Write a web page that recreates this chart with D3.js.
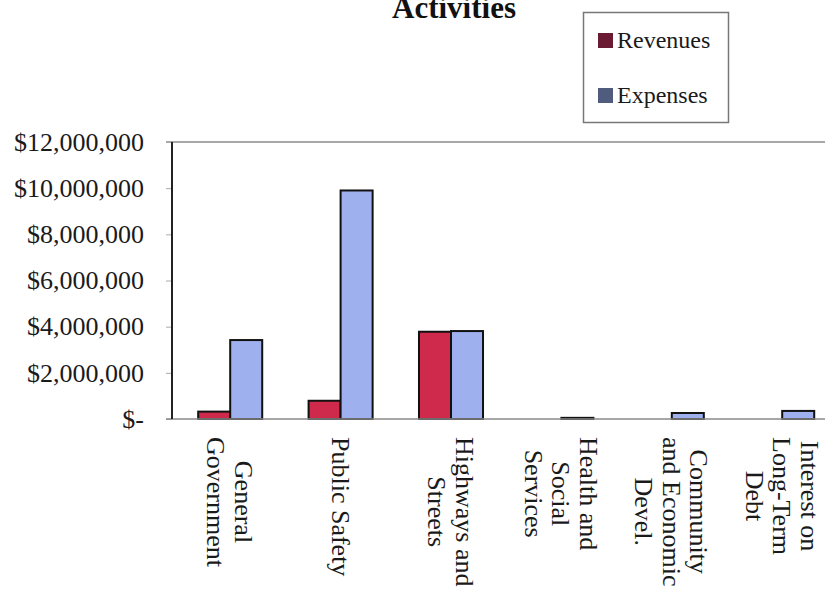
<!DOCTYPE html>
<html><head><meta charset="utf-8">
<script src="https://cdn.jsdelivr.net/npm/d3@7"></script>
<style>
html,body{margin:0;padding:0;background:#fff;}
svg{display:block;font-family:"Liberation Serif","Times New Roman",serif;}
</style></head>
<body>
<svg id="chart" width="825" height="589"></svg>
<script>
const categories = [
  ["General", "Government"],
  ["Public Safety"],
  ["Highways and", "Streets"],
  ["Health and", "Social", "Services"],
  ["Community", "and Economic", "Devel."],
  ["Interest on", "Long-Term", "Debt"]
];
const seriesNames = ["Revenues", "Expenses"];
const revenues = [320000, 790000, 3780000, 0, 0, 0];
const expenses = [3420000, 9900000, 3810000, 50000, 260000, 350000];
const yTicks = [0, 2000000, 4000000, 6000000, 8000000, 10000000, 12000000];
const chartTitle = "Activities";

const barColors = ["#cf2a4c", "#9eb0ee"];
const legendColors = ["#6a1a33", "#4f5c7e"];

const svg = d3.select("#chart");
const W = 825;
const plotTop = 142, plotBottom = 419, plotLeft = 172;

const keys = categories.map((c, i) => i);
const x0 = d3.scaleBand().domain(keys).range([175, 837.4]).paddingInner(0.42).paddingOuter(0.21);
const x1 = d3.scaleBand().domain(seriesNames).range([0, x0.bandwidth()]);
const y = d3.scaleLinear().domain([0, 12000000]).range([plotBottom, plotTop]);

// title
svg.append("text").attr("x", 454).attr("y", 18).attr("text-anchor", "middle")
  .attr("font-weight", "bold").attr("font-size", 31).attr("fill", "#111").text(chartTitle);

// top frame line
svg.append("line").attr("x1", 166).attr("x2", W).attr("y1", plotTop).attr("y2", plotTop)
  .attr("stroke", "#8a8a8a").attr("stroke-width", 1.5);

// y axis
const fmt = v => v === 0 ? "$-" : "$" + d3.format(",")(v);
const yAxis = d3.axisLeft(y).tickValues(yTicks).tickFormat(fmt).tickSize(6).tickPadding(22);
const gy = svg.append("g").attr("transform", `translate(${plotLeft},0)`).call(yAxis);
gy.select(".domain").remove();
gy.selectAll(".tick line").attr("stroke", "#aaa");
gy.selectAll(".tick text").attr("font-size", 26).attr("fill", "#1a1a1a")
  .attr("font-family", "Liberation Serif, Times New Roman, serif");

// bars
const data = categories.map((c, i) => ({i, vals: [revenues[i], expenses[i]]}));
const g = svg.append("g");
data.forEach(d => {
  d.vals.forEach((v, j) => {
    if (v <= 0) return;
    g.append("rect")
      .attr("x", x0(d.i) + x1(seriesNames[j]))
      .attr("y", y(v))
      .attr("width", x1.bandwidth())
      .attr("height", y(0) - y(v))
      .attr("fill", barColors[j])
      .attr("stroke", "#111").attr("stroke-width", 2);
  });
});

// baseline
svg.append("line").attr("x1", 166).attr("x2", W).attr("y1", plotBottom).attr("y2", plotBottom)
  .attr("stroke", "#8a8a8a").attr("stroke-width", 1.5);
// vertical axis line
svg.append("line").attr("x1", plotLeft).attr("x2", plotLeft).attr("y1", plotTop).attr("y2", plotBottom)
  .attr("stroke", "#222").attr("stroke-width", 2);

// x labels (rotated 90deg clockwise, multi-line, centered)
const lh = 27.5, fs = 26;
categories.forEach((lines, i) => {
  const cx = x0(i) + x0.bandwidth() / 2;
  const t = svg.append("text").attr("font-size", fs).attr("fill", "#1a1a1a")
    .attr("text-anchor", "middle").attr("dominant-baseline", "central");
  lines.forEach((ln, k) => {
    t.append("tspan").attr("x", 0).attr("y", (k - (lines.length - 1) / 2) * lh).text(ln);
  });
  let maxW = 0;
  t.selectAll("tspan").each(function(){ maxW = Math.max(maxW, this.getComputedTextLength()); });
  t.attr("transform", `translate(${cx},${437 + maxW / 2}) rotate(90)`);
});

// legend
const lg = svg.append("g");
lg.append("rect").attr("x", 583.5).attr("y", 12.5).attr("width", 145).attr("height", 110)
  .attr("fill", "#fff").attr("stroke", "#777").attr("stroke-width", 1.5);
seriesNames.forEach((s, j) => {
  const yy = 40 + j * 55;
  lg.append("rect").attr("x", 598).attr("y", yy - 7).attr("width", 15).attr("height", 15)
    .attr("fill", legendColors[j]);
  lg.append("text").attr("x", 617).attr("y", yy).attr("dominant-baseline", "central")
    .attr("font-size", 24).attr("fill", "#1a1a1a").text(s);
});
</script>
</body></html>
